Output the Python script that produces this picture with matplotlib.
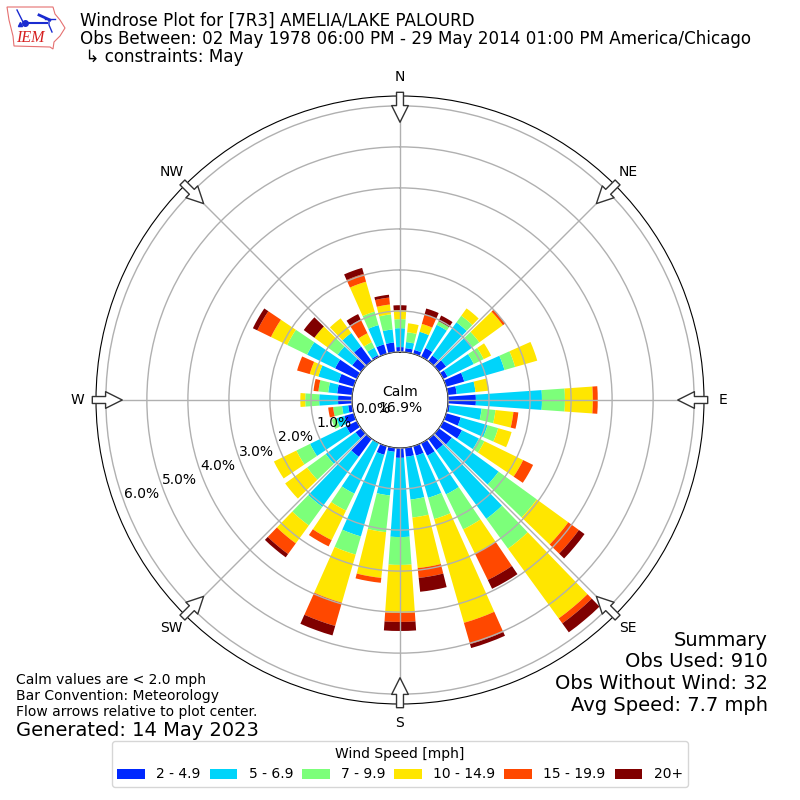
import matplotlib
matplotlib.use("Agg")
import matplotlib.pyplot as plt
import numpy as np

# direction of every bar, degrees from north
directions = list(range(0, 360, 10))

# percent of obs per speed bin, one value per direction
speed_2_5 = [.12, .10, .10, .24, .17, .22, .12, .46, .22, .68, .05, .37, .51, .39, .34, .34, .24, .22,
             .24, .10, .22, 0, .54, .17, .29, .24, .10, .34, .37, .39, .59, .27, .44, .05, .24, .24]
speed_5_7 = [.46, .15, .46, .63, 1.00, .80, .71, 1.02, .46, 1.61, .78, .68, .46, 1.41, 2.07, 1.05, 1.07, 1.05,
             1.93, 1.07, 2.07, 1.37, 1.51, .90, .98, .20, .15, .46, .22, .51, .76, .44, .41, .20, .49, .32]
speed_7_10 = [.22, .24, 0, .10, .20, .20, .27, .27, 0, .56, .34, .27, .15, 1.15, .90, .95, .54, .44,
              .68, .90, .46, .46, .56, .56, .37, .12, .22, .34, .24, 0, .54, .29, 0, .15, .34, .37]
speed_10_15 = [.22, .22, .20, 0, .22, .71, .20, .56, .32, .68, .44, .34, 1.05, .95, 2.10, .66, 2.63, 1.24,
               1.17, 1.12, 1.22, .80, .54, .66, .61, 0, 0, .12, 0, .22, .44, .41, .44, .24, .76, .24]
speed_15_20 = [0, 0, .24, 0, 0, .07, 0, 0, 0, .12, .12, 0, .27, .32, .15, .71, .54, .24,
               .22, .12, .59, .17, .32, 0, 0, 0, .12, 0, .12, .32, .37, 0, 0, .37, .20, .17]
speed_20 = [.12, 0, .15, .15, 0, 0, 0, 0, 0, 0, 0, 0, 0, .17, .27, .24, .10, .34,
            .22, 0, .24, 0, .10, 0, 0, 0, 0, 0, 0, 0, .12, .32, 0, .15, .15, .07]

series = [speed_2_5, speed_5_7, speed_7_10, speed_10_15, speed_15_20, speed_20]
speed_labels = ["2 - 4.9", "5 - 6.9", "7 - 9.9", "10 - 14.9", "15 - 19.9", "20+"]
colors = ["#0028ff", "#00d4fa", "#7cff7a", "#ffe600", "#ff4800", "#800000"]

ring_ticks = [0, 1, 2, 3, 4, 5, 6]
compass = ["N", "NE", "E", "SE", "S", "SW", "W", "NW"]
compass_deg = [0, 45, 90, 135, 180, 225, 270, 315]

fig = plt.figure(figsize=(8, 8), dpi=100)
ax = fig.add_axes([0.12, 0.12, 0.76, 0.76], projection="polar")
ax.set_theta_zero_location("N")
ax.set_theta_direction(-1)

theta = np.radians(directions)
bottom = np.zeros(len(directions))
for vals, col, lab in zip(series, colors, speed_labels):
    ax.bar(theta, vals, width=np.radians(8), bottom=bottom, color=col, label=lab, linewidth=0, zorder=2)
    bottom = bottom + np.array(vals)

ax.set_rorigin(-1.17)
ax.set_rmin(0)
ax.set_rmax(6.24)
ax.set_rlabel_position(250)
ax.set_rgrids(ring_ticks, ["%.1f%%" % t for t in ring_ticks])
ax.set_thetagrids(compass_deg, compass)
ax.tick_params(axis="x", pad=3)
ax.grid(True, color="#b0b0b0", linewidth=1, zorder=1)
ax.set_axisbelow(False)
for lab in ax.get_yticklabels():
    lab.set_zorder(5)

# flow arrows, pointing at the center
for deg in compass_deg:
    ax.annotate("", xy=(np.radians(deg), 5.60), xytext=(np.radians(deg), 6.33),
                annotation_clip=False, zorder=6,
                arrowprops=dict(width=5, headwidth=12, headlength=12, facecolor="white",
                                edgecolor="#333333", linewidth=1, shrink=0))

ax.text(0.5, 0.5, "Calm\n16.9%", transform=ax.transAxes, ha="center", va="center", fontsize=10, zorder=7)

# header
fig.text(0.10, 0.9745, "Windrose Plot for [7R3] AMELIA/LAKE PALOURD", fontsize=12.05, va="center")
fig.text(0.10, 0.9515, "Obs Between: 02 May 1978 06:00 PM - 29 May 2014 01:00 PM America/Chicago", fontsize=12.05, va="center")
fig.text(0.10, 0.929, " \u21b3 constraints: May", fontsize=12.05, va="center")

# summary
summary = ["Summary", "Obs Used: 910", "Obs Without Wind: 32", "Avg Speed: 7.7 mph"]
for i, line in enumerate(summary):
    fig.text(0.96, 0.2 - i * 0.0272, line, fontsize=14, ha="right", va="center")

notes = ["Calm values are < 2.0 mph", "Bar Convention: Meteorology", "Flow arrows relative to plot center."]
for i, line in enumerate(notes):
    fig.text(0.02, 0.15 - i * 0.0202, line, fontsize=10, va="center")
fig.text(0.02, 0.0875, "Generated: 14 May 2023", fontsize=14, va="center")

fig.legend(*ax.get_legend_handles_labels(), loc="lower center", bbox_to_anchor=(0.5, 0.0075), ncol=6,
           title="Wind Speed [mph]", fontsize=10, title_fontsize=10, columnspacing=0.65)

# rough IEM logo, coordinates are pixels of the figure corner
logo = fig.add_axes([0, 0.925, 0.1, 0.075])
logo.set_xlim(0, 80)
logo.set_ylim(60, 0)
logo.axis("off")
state_x = [7, 53, 55, 60, 65, 60, 54, 53, 50, 14, 13, 9, 7]
state_y = [7, 7, 14, 20, 28, 36, 42, 49, 47, 46, 36, 20, 7]
logo.fill(state_x, state_y, facecolor="white", edgecolor="#e57070", linewidth=0.8)
logo.plot([25, 47], [23, 23], color="#1a2bd0", linewidth=1.5)
logo.plot([17, 23], [10, 22], color="#1a2bd0", linewidth=1)
logo.plot([39, 50], [15, 20], color="#1a2bd0", linewidth=2)
logo.plot([45, 55], [19, 19], color="#1a2bd0", linewidth=1)
logo.plot([49, 49, 52], [20, 25, 32], color="#1a2bd0", linewidth=1)
logo.plot([25], [23], "o", color="#1a2bd0", markersize=4)
logo.plot([20], [24], "^", color="#1a2bd0", markersize=3)
logo.text(30, 38, "IEM", color="#d62020", family="Liberation Serif", style="italic", fontsize=11.5, ha="center", va="center")

fig.savefig("out.png", dpi=100)
